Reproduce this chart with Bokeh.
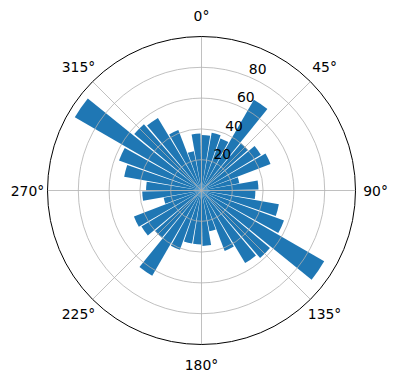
import numpy as np
from bokeh.plotting import figure
from bokeh.models import Range1d, ColumnDataSource
from bokeh.embed import file_html
from bokeh.resources import INLINE
from bokeh.core.properties import value

# ---- data (compass bins, clockwise from north) ----
direction_deg = [0, 10, 20, 30, 40, 50, 60, 70, 80,
                 90, 100, 110, 120, 130, 140, 150, 160, 170,
                 180, 190, 200, 210, 220, 230, 240, 250, 260,
                 270, 280, 290, 300, 310, 320, 330, 340, 350]
counts = [36, 38, 36, 68, 40, 45, 48, 25, 37,
          35, 51, 57, 92, 58, 55, 42, 27, 36,
          35, 35, 41, 64, 40, 45.5, 47, 25, 38.5,
          36, 51, 57, 95, 57, 55, 42, 26, 37]
bar_width_deg = 9
r_ticks = [20, 40, 60, 80]
r_tick_labels = ["20", "40", "60", "80"]
r_max = 100
angle_ticks = [0, 45, 90, 135, 180, 225, 270, 315]
angle_labels = ["0°", "45°", "90°", "135°", "180°", "225°", "270°", "315°"]

# ---- layout ----
W, H = 396, 380
cx_px, cy_px = 201, 190
ppu = 1.54  # pixels per radial unit

p = figure(width=W, height=H, output_backend="svg", toolbar_location=None,
           x_range=Range1d(-cx_px / ppu, (W - cx_px) / ppu),
           y_range=Range1d(-(H - cy_px) / ppu, cy_px / ppu),
           min_border=0, x_axis_type=None, y_axis_type=None)
p.grid.visible = False
p.outline_line_color = None
p.background_fill_color = "white"
p.border_fill_color = "white"

d = np.array(direction_deg, dtype=float)
start = np.deg2rad(90 - d - bar_width_deg)
end = np.deg2rad(90 - d)
src = ColumnDataSource(dict(r=counts, start=start, end=end))
p.wedge(x=0, y=0, radius="r", start_angle="start", end_angle="end",
        source=src, fill_color="#1f77b4", line_color=None)

# grid circles
p.circle(x=[0] * len(r_ticks), y=[0] * len(r_ticks), radius=r_ticks,
         fill_color=None, line_color="#b0b0b0", line_width=0.8)
# spokes
th = np.deg2rad(np.array(angle_ticks, dtype=float))
p.segment(x0=0, y0=0, x1=r_max * np.sin(th), y1=r_max * np.cos(th),
          line_color="#b0b0b0", line_width=0.8)
# outer spine
p.circle(x=[0], y=[0], radius=[r_max], fill_color=None,
         line_color="black", line_width=1)

# angle labels
lr = 113
p.text(x=lr * np.sin(th), y=lr * np.cos(th), text=angle_labels,
       text_align="center", text_baseline="middle",
       text_font=value("DejaVu Sans"), text_font_size="13.9px", text_color="black")

# radial labels at 22.5 deg
ra = np.deg2rad(22.5)
rt = np.array(r_ticks, dtype=float)
p.text(x=rt * np.sin(ra) + 9 / ppu, y=rt * np.cos(ra) + 8 / ppu, text=r_tick_labels,
       text_align="center", text_baseline="middle",
       text_font=value("DejaVu Sans"), text_font_size="13.9px", text_color="black")

open("out.html", "w").write(file_html(p, INLINE))
